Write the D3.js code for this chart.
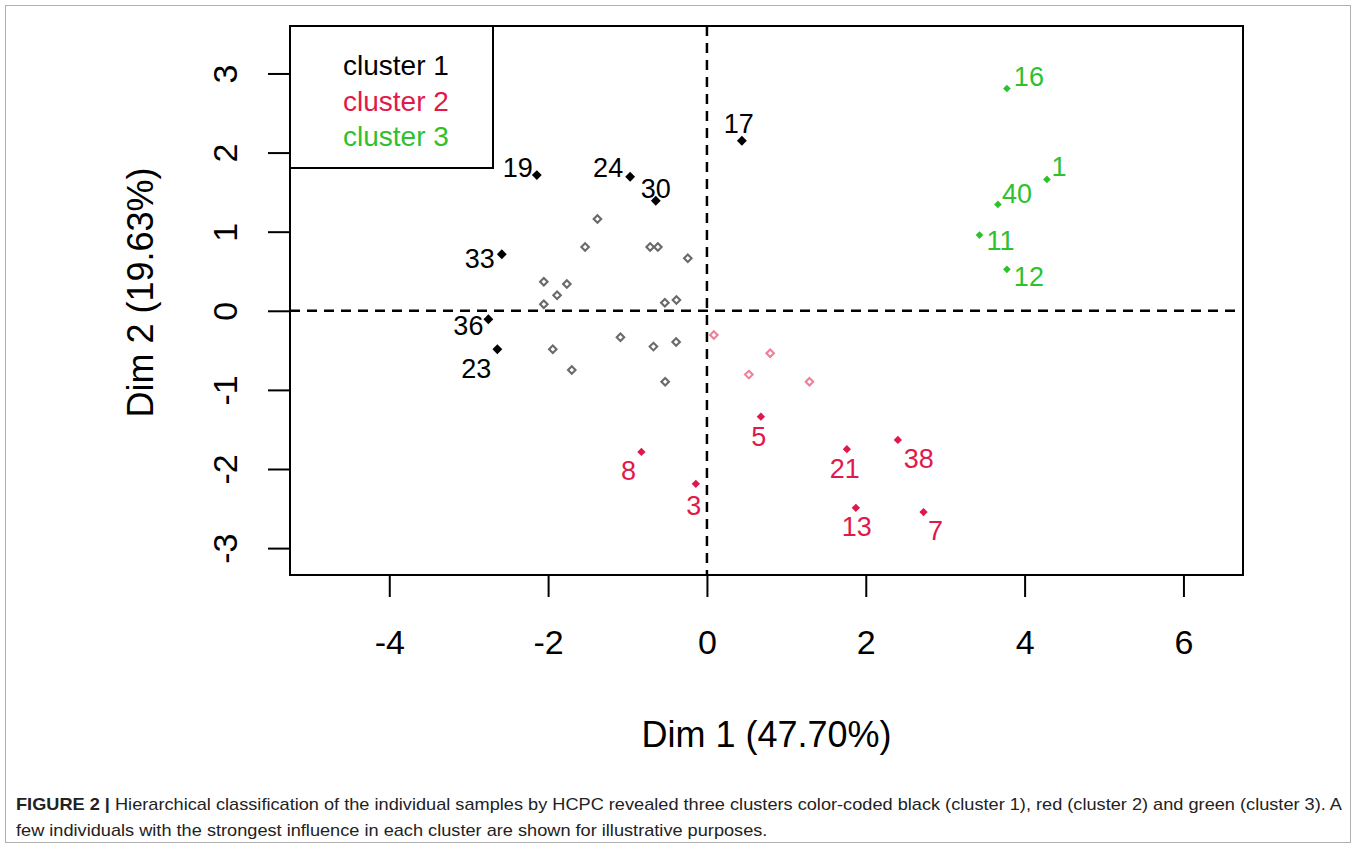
<!DOCTYPE html>
<html>
<head>
<meta charset="utf-8">
<script src="https://cdn.jsdelivr.net/npm/d3@7"></script>
<style>
  html, body { margin: 0; padding: 0; background: #fff; }
  svg { display: block; }
</style>
</head>
<body>
<svg id="chart" width="1357" height="848"></svg>
<script>
// ---------------- DATA ----------------
const xTicks = [-4, -2, 0, 2, 4, 6];
const yTicks = [-3, -2, -1, 0, 1, 2, 3];
const xTitle = "Dim 1 (47.70%)";
const yTitle = "Dim 2 (19.63%)";
const legendLabels = ["cluster 1", "cluster 2", "cluster 3"];

// cluster 1 – labelled individuals
const c1Labels = ["19", "24", "30", "17", "33", "36", "23"];
const c1X = [-2.142, -0.967, -0.644, 0.440, -2.583, -2.752, -2.639];
const c1Y = [1.715, 1.694, 1.391, 2.149, 0.714, -0.107, -0.486];
// cluster 1 – other individuals
const c1OtherX = [-1.379, -1.534, -0.715, -0.618, -0.241, -2.054, -1.764, -1.887, -2.054, -0.530, -0.384, -1.089, -1.941, -0.674, -0.388, -1.702, -0.526];
const c1OtherY = [1.160, 0.806, 0.806, 0.806, 0.663, 0.368, 0.339, 0.196, 0.082, 0.102, 0.136, -0.335, -0.486, -0.453, -0.394, -0.748, -0.896];

// cluster 2 – labelled individuals
const c2Labels = ["5", "8", "3", "21", "38", "13", "7"];
const c2X = [0.679, -0.825, -0.140, 1.762, 2.404, 1.875, 2.727];
const c2Y = [-1.338, -1.784, -2.188, -1.749, -1.632, -2.491, -2.545];
// cluster 2 – other individuals
const c2OtherX = [0.087, 0.796, 0.528, 1.291];
const c2OtherY = [-0.306, -0.537, -0.807, -0.896];

// cluster 3 – labelled individuals
const c3Labels = ["16", "1", "40", "11", "12"];
const c3X = [3.777, 4.281, 3.664, 3.432, 3.777];
const c3Y = [2.810, 1.661, 1.345, 0.957, 0.524];

const captionBold = "FIGURE 2 |";
const captionLine1 = " Hierarchical classification of the individual samples by HCPC revealed three clusters color-coded black (cluster 1), red (cluster 2) and green (cluster 3). A";
const captionLine2 = "few individuals with the strongest influence in each cluster are shown for illustrative purposes.";

// ---------------- LAYOUT / STYLE ----------------
const plot = { left: 290, right: 1243, top: 26, bottom: 575 };
const colors = { c1: "#000000", c2: "#e0194b", c3: "#2ec12e", c1Other: "#6a6a6a", c2Other: "#f07f98" };
// label offsets (pixels, from point to label centre)
const labelOffset = {
  "19": [-19, -8], "24": [-22, -9], "30": [0, -12], "17": [-3, -17],
  "33": [-22, 4], "36": [-20, 6], "23": [-21, 19],
  "5": [-2, 20], "8": [-13, 19], "3": [-2, 22], "21": [-2, 19],
  "38": [21, 19], "13": [1, 19], "7": [12, 18],
  "16": [22, -12], "1": [12, -13], "40": [19, -11], "11": [21, 5], "12": [22, 7]
};
const FONT = "'Liberation Sans', Arial, Helvetica, sans-serif";

const svg = d3.select("#chart");

// outer frame
svg.append("rect")
  .attr("x", 5.5).attr("y", 5.5).attr("width", 1345).attr("height", 837)
  .attr("fill", "none").attr("stroke", "#b0b0b0").attr("stroke-width", 1);

const x = d3.scaleLinear().domain([-5.25, 6.75]).range([plot.left, plot.right]);
const y = d3.scaleLinear().domain([-3.34, 3.60]).range([plot.bottom, plot.top]);

// axes
const gx = svg.append("g")
  .attr("transform", `translate(0,${plot.bottom})`)
  .call(d3.axisBottom(x).tickValues(xTicks).tickFormat(d => String(d)).tickSize(22).tickPadding(33));
gx.select(".domain").remove();
gx.selectAll("line").attr("stroke", "#000").attr("stroke-width", 2);
gx.selectAll("text").attr("font-family", FONT).attr("font-size", 34).attr("fill", "#000");

const gy = svg.append("g")
  .attr("transform", `translate(${plot.left},0)`)
  .call(d3.axisLeft(y).tickValues(yTicks).tickFormat(d => String(d)).tickSize(22));
gy.select(".domain").remove();
gy.selectAll("line").attr("stroke", "#000").attr("stroke-width", 2);
gy.selectAll("text")
  .attr("font-family", FONT).attr("font-size", 34).attr("fill", "#000")
  .attr("x", null).attr("dy", "0.35em").attr("text-anchor", "middle")
  .attr("transform", "translate(-65,0) rotate(-90)");

// reference lines (dashed) through origin
svg.append("line")
  .attr("x1", x(0)).attr("x2", x(0)).attr("y1", plot.top).attr("y2", plot.bottom)
  .attr("stroke", "#000").attr("stroke-width", 2.5).attr("stroke-dasharray", "10,7");
svg.append("line")
  .attr("x1", plot.left).attr("x2", plot.right).attr("y1", y(0)).attr("y2", y(0))
  .attr("stroke", "#000").attr("stroke-width", 2.5).attr("stroke-dasharray", "10,7");

// plot box
svg.append("rect")
  .attr("x", plot.left).attr("y", plot.top)
  .attr("width", plot.right - plot.left).attr("height", plot.bottom - plot.top)
  .attr("fill", "none").attr("stroke", "#000").attr("stroke-width", 2);

// axis titles
svg.append("text")
  .attr("x", (plot.left + plot.right) / 2).attr("y", 734).attr("dy", "0.35em")
  .attr("text-anchor", "middle").attr("font-family", FONT).attr("font-size", 36).attr("fill", "#000")
  .text(xTitle);
svg.append("text")
  .attr("transform", `translate(140,${(plot.top + plot.bottom) / 2 - 8}) rotate(-90)`)
  .attr("dy", "0.35em")
  .attr("text-anchor", "middle").attr("font-family", FONT).attr("font-size", 36).attr("fill", "#000")
  .text(yTitle);

// points
const sym = d3.symbolDiamond2 || d3.symbolDiamond;
const g = svg.append("g");
function openPoints(xs, ys, color) {
  g.selectAll(null).data(xs.map((v, i) => [v, ys[i]])).enter()
    .append("path")
    .attr("d", d3.symbol().type(sym).size(36)())
    .attr("transform", d => `translate(${x(d[0])},${y(d[1])})`)
    .attr("fill", "none").attr("stroke", color).attr("stroke-width", 2.1);
}
function filledPoints(xs, ys, labels, color, size) {
  const data = xs.map((v, i) => ({ x: v, y: ys[i], label: labels[i] }));
  g.selectAll(null).data(data).enter()
    .append("path")
    .attr("d", d3.symbol().type(sym).size(size)())
    .attr("transform", d => `translate(${x(d.x)},${y(d.y)})`)
    .attr("fill", color);
  g.selectAll(null).data(data).enter()
    .append("text")
    .attr("x", d => x(d.x) + labelOffset[d.label][0])
    .attr("y", d => y(d.y) + labelOffset[d.label][1])
    .attr("dy", "0.35em").attr("text-anchor", "middle")
    .attr("font-family", FONT).attr("font-size", 27).attr("fill", color)
    .text(d => d.label);
}
openPoints(c1OtherX, c1OtherY, colors.c1Other);
openPoints(c2OtherX, c2OtherY, colors.c2Other);
filledPoints(c1X, c1Y, c1Labels, colors.c1, 62);
filledPoints(c2X, c2Y, c2Labels, colors.c2, 44);
filledPoints(c3X, c3Y, c3Labels, colors.c3, 38);

// legend
svg.append("rect")
  .attr("x", plot.left).attr("y", plot.top).attr("width", 203).attr("height", 142)
  .attr("fill", "#fff").attr("stroke", "#000").attr("stroke-width", 2);
const legendColors = [colors.c1, colors.c2, colors.c3];
svg.selectAll(null).data(legendLabels).enter()
  .append("text")
  .attr("x", 343).attr("y", (d, i) => 65 + i * 35.8).attr("dy", "0.35em")
  .attr("font-family", FONT).attr("font-size", 28)
  .attr("fill", (d, i) => legendColors[i])
  .text(d => d);

// caption
const CAPFONT = "'Liberation Sans Narrow', 'Liberation Sans', Arial, sans-serif";
const cap1 = svg.append("text").attr("x", 16).attr("y", 810)
  .attr("font-family", CAPFONT).attr("font-size", 17).attr("fill", "#222");
cap1.append("tspan").attr("font-weight", "bold").text(captionBold);
cap1.append("tspan").text(captionLine1);
const cap2 = svg.append("text").attr("x", 16).attr("y", 836)
  .attr("font-family", CAPFONT).attr("font-size", 17).attr("fill", "#222")
  .text(captionLine2);
// fit caption width to the frame
const w1 = cap1.node().getComputedTextLength();
const k = 1326 / w1;
cap1.attr("textLength", w1 * k).attr("lengthAdjust", "spacingAndGlyphs");
const w2 = cap2.node().getComputedTextLength();
cap2.attr("textLength", w2 * k).attr("lengthAdjust", "spacingAndGlyphs");
</script>
</body>
</html>
